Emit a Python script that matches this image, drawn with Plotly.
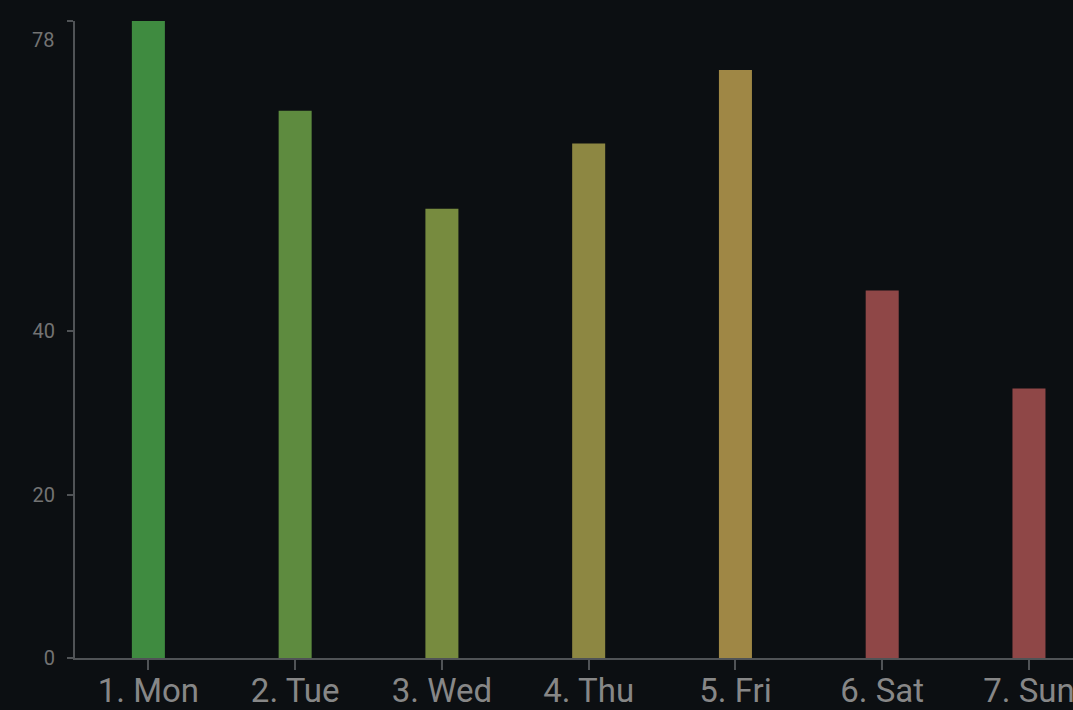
import plotly.graph_objects as go

categories = ["1. Mon", "2. Tue", "3. Wed", "4. Thu", "5. Fri", "6. Sat", "7. Sun"]
values = [78, 67, 55, 63, 72, 45, 33]
bar_colors = ["#3f8b40", "#5e8b3f", "#778b3f", "#8d8742", "#9f8745", "#8f4747", "#8f4747"]
y_tickvals = [0, 20, 40, 78]
y_ticktext = ["0", "20", "40", ""]
top_label = "78"

BG = "#0c0f12"
AXIS = "#505356"

fig = go.Figure(go.Bar(
    x=list(range(len(categories))), y=values,
    marker=dict(color=bar_colors, line=dict(width=0)),
    hoverinfo="skip",
))

fig.update_layout(
    width=1073, height=710,
    paper_bgcolor=BG, plot_bgcolor=BG,
    margin=dict(l=75, r=0, t=21, b=52, autoexpand=False),
    bargap=0.775,
    showlegend=False,
    font=dict(family="Roboto", color="#858585"),
)
fig.update_xaxes(
    range=[-0.5, 6.30],
    tickvals=list(range(len(categories))), ticktext=categories,
    showgrid=False, zeroline=False,
    showline=True, linecolor=AXIS, linewidth=2,
    ticks="outside", ticklen=10, tickwidth=2, tickcolor=AXIS,
    tickfont=dict(size=33, color="#878787"),
    ticklabeloverflow="allow",
    ticklabelstandoff=-8,
)
fig.update_yaxes(
    range=[0, 78],
    tickvals=y_tickvals, ticktext=y_ticktext,
    showgrid=False, zeroline=False,
    showline=True, linecolor=AXIS, linewidth=2,
    ticks="outside", ticklen=6, tickwidth=2, tickcolor=AXIS,
    tickfont=dict(size=20, color="#737373"),
    ticklabelstandoff=8,
)
fig.add_annotation(
    x=0, xref="paper", y=78, yref="y",
    text=top_label, showarrow=False,
    xanchor="right", yanchor="middle",
    xshift=-19, yshift=-19,
    font=dict(family="Roboto", size=20, color="#737373"),
)

fig.write_html(
    "out.html",
    config={"displayModeBar": False},
    post_script="document.body.style.margin='0';document.body.style.background='%s';" % BG,
)
